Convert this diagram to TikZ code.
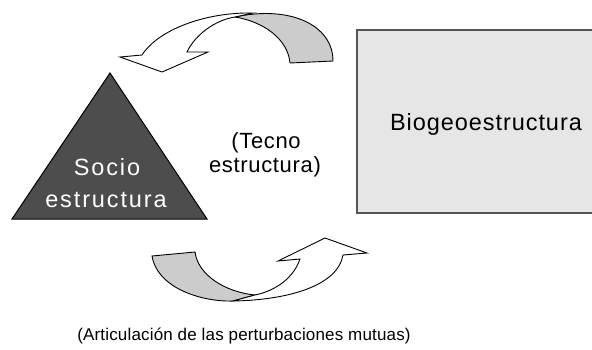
\documentclass[tikz,border=0pt]{standalone}
\usepackage{fontspec}
\setmainfont{Liberation Sans}
\newfontfamily\fsoc[LetterSpace=8]{Liberation Sans}
\newfontfamily\fbio[LetterSpace=4]{Liberation Sans}
\newfontfamily\ftec[LetterSpace=3]{Liberation Sans}
\newfontfamily\fcap[LetterSpace=1]{Liberation Sans}
\definecolor{trifill}{HTML}{4D4D4D}
\definecolor{rectfill}{HTML}{E6E6E6}
\definecolor{rectline}{HTML}{555555}
\definecolor{ribbon}{HTML}{CCCCCC}
\tikzset{
  txt/.style={inner sep=0pt, anchor=base},
  band/.style={draw=black, line width=0.9pt, line join=miter},
}
\begin{document}
\begin{tikzpicture}[x=1pt,y=-1pt]
\useasboundingbox (0,0) rectangle (592,349);
% Biogeoestructura box
\node[draw=rectline, fill=rectfill, line width=1.3pt, minimum width=258pt, minimum height=183pt, inner sep=0pt] (bio) at (486,121.5) {};
\node[txt, font={\fbio\fontsize{23.5}{28}\selectfont}] (biotxt) at (486,130) {Biogeoestructura};
% triangle
\coordinate (apex) at (110,73);
\coordinate (bl) at (12,219);
\coordinate (br) at (207,219);
\draw[fill=trifill, line width=1pt] (apex) -- (br) -- (bl) -- cycle;
\node[txt, text=white, font={\fsoc\fontsize{23.5}{28}\selectfont}] (socio1) at (107,175) {Socio};
\node[txt, text=white, font={\fsoc\fontsize{23.5}{28}\selectfont}] (socio2) at (106,207) {estructura};
% tecno
\node[txt, font={\ftec\fontsize{22}{26}\selectfont}] (tec1) at (266,148) {(Tecno};
\node[txt, font={\ftec\fontsize{22}{26}\selectfont}] (tec2) at (265,172) {estructura)};
% caption
\node[txt, font={\fcap\fontsize{17}{20}\selectfont}] (cap) at (244,340) {(Articulación de las perturbaciones mutuas)};
% top arrow
\draw[band, fill=ribbon] (235,17) .. controls (290,5) and (333,25) .. (333,61) -- (290,63) .. controls (288,40) and (265,22) .. (235,17) -- cycle;
\draw[band, fill=white] (253,13) .. controls (205,12) and (158,30) .. (142,55) -- (120,57) -- (162,72) -- (208,52) -- (187,52) .. controls (195,35) and (215,20) .. (235,17) -- cycle;
% bottom arrow
\draw[band, fill=ribbon] (152,256) .. controls (158,290) and (205,302) .. (233,301) -- (255,295) .. controls (225,292) and (198,275) .. (195,252) -- cycle;
\draw[band, fill=white] (233,301) .. controls (290,300) and (338,285) .. (343,255) -- (367,253) -- (325,238) -- (278,261) -- (300,259) .. controls (292,282) and (270,292) .. (255,295) -- cycle;
\end{tikzpicture}
\end{document}
